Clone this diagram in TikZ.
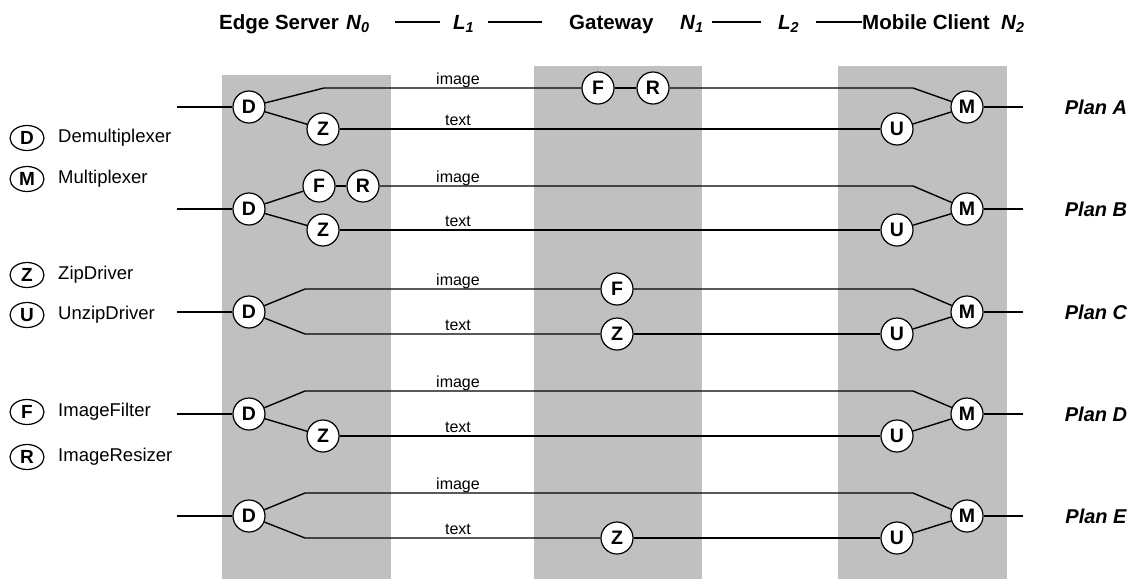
\documentclass[tikz,border=0pt]{standalone}
\usepackage{fontspec}
\setmainfont{Liberation Sans}
\usetikzlibrary{shapes.geometric}
\definecolor{colgray}{RGB}{192,192,192}
\begin{document}
\begin{tikzpicture}[x=1pt,y=-1pt,
  proc/.style={circle,draw,line width=1.2pt,fill=white,minimum size=32pt,inner sep=0pt,font=\fontsize{19.5}{20}\bfseries\selectfont},
  leg/.style={ellipse,draw,line width=1.2pt,fill=white,minimum width=34pt,minimum height=25pt,inner sep=0pt,font=\fontsize{19}{20}\bfseries\selectfont},
  legtext/.style={anchor=west,inner sep=0pt,font=\fontsize{18.5}{20}\selectfont},
  wire/.style={line width=1.4pt},
  lbl/.style={anchor=base,inner sep=0pt,font=\fontsize{16}{18}\selectfont},
  plan/.style={inner sep=0pt,font=\fontsize{20}{22}\bfseries\itshape\selectfont},
  ttl/.style={anchor=base west,inner sep=0pt,font=\fontsize{20.5}{24}\bfseries\selectfont},
  tline/.style={line width=1.2pt}
]
\useasboundingbox (0,0) rectangle (1135,579);
% columns
\fill[colgray] (222,75) rectangle (391,579);
\fill[colgray] (534,66) rectangle (702,579);
\fill[colgray] (838,66) rectangle (1007,579);

% title
\node[ttl] (es) at (219,29) {Edge Server};
\node[ttl] (n0) at (346,29) {\itshape N\textsubscript{0}};
\node[ttl] (l1) at (453,29) {\itshape L\textsubscript{1}};
\node[ttl] (gw) at (569,29) {Gateway};
\node[ttl] (n1) at (680,29) {\itshape N\textsubscript{1}};
\node[ttl] (l2) at (778,29) {\itshape L\textsubscript{2}};
\node[ttl] (mc) at (862,29) {Mobile Client};
\node[ttl] (n2) at (1001,29) {\itshape N\textsubscript{2}};
\coordinate (t1a) at (395,22); \coordinate (t1b) at (440,22);
\coordinate (t2a) at (488,22); \coordinate (t2b) at (542,22);
\coordinate (t3a) at (712,22); \coordinate (t3b) at (761,22);
\coordinate (t4a) at (816,22); \coordinate (t4b) at (862,22);
\draw[tline] (t1a) -- (t1b);
\draw[tline] (t2a) -- (t2b);
\draw[tline] (t3a) -- (t3b);
\draw[tline] (t4a) -- (t4b);

% legend
\node[leg] (lD) at (27,138) {D}; \node[legtext] (tD) at (58,138) {Demultiplexer};
\node[leg] (lM) at (27,179) {M}; \node[legtext] (tM) at (58,179) {Multiplexer};
\node[leg] (lZ) at (27,275) {Z}; \node[legtext] (tZ) at (58,275) {ZipDriver};
\node[leg] (lU) at (27,315) {U}; \node[legtext] (tU) at (58,315) {UnzipDriver};
\node[leg] (lF) at (27,412) {F}; \node[legtext] (tF) at (58,412) {ImageFilter};
\node[leg] (lR) at (27,457) {R}; \node[legtext] (tR) at (58,457) {ImageResizer};

% ---------- Plan A
\coordinate (inA) at (177,107); \coordinate (outA) at (1023,107);
\coordinate (biA) at (324,88); \coordinate (miA) at (913,88);
\node[proc] (DA) at (249,107) {D};
\node[proc] (ZA) at (323,129) {Z};
\node[proc] (FA) at (598,88) {F};
\node[proc] (RA) at (653,88) {R};
\node[proc] (UA) at (897,129) {U};
\node[proc] (MA) at (967,107) {M};
\draw[wire] (inA) -- (DA);
\draw[wire] (DA) -- (biA) -- (FA);
\draw[wire] (FA) -- (RA);
\draw[wire] (RA) -- (miA) -- (MA);
\draw[wire] (DA) -- (ZA);
\draw[wire] (ZA) -- (UA);
\draw[wire] (UA) -- (MA);
\draw[wire] (MA) -- (outA);
\node[lbl] at (458,84) {image};
\node[lbl] at (458,125) {text};
\node[plan] (pA) at (1096,107) {Plan A};

% ---------- Plan B
\coordinate (inB) at (177,209); \coordinate (outB) at (1023,209);
\coordinate (miB) at (913,186);
\node[proc] (DB) at (249,209) {D};
\node[proc] (FB) at (319,186) {F};
\node[proc] (RB) at (363,186) {R};
\node[proc] (ZB) at (323,230) {Z};
\node[proc] (UB) at (897,230) {U};
\node[proc] (MB) at (967,209) {M};
\draw[wire] (inB) -- (DB);
\draw[wire] (DB) -- (FB);
\draw[wire] (FB) -- (RB);
\draw[wire] (RB) -- (miB) -- (MB);
\draw[wire] (DB) -- (ZB);
\draw[wire] (ZB) -- (UB);
\draw[wire] (UB) -- (MB);
\draw[wire] (MB) -- (outB);
\node[lbl] at (458,182) {image};
\node[lbl] at (458,226) {text};
\node[plan] (pB) at (1096,209) {Plan B};

% ---------- Plan C
\coordinate (inC) at (177,312); \coordinate (outC) at (1023,312);
\coordinate (biC) at (305,289); \coordinate (miC) at (913,289);
\coordinate (btC) at (305,334);
\node[proc] (DC) at (249,312) {D};
\node[proc] (FC) at (617,289) {F};
\node[proc] (ZC) at (617,334) {Z};
\node[proc] (UC) at (897,334) {U};
\node[proc] (MC) at (967,312) {M};
\draw[wire] (inC) -- (DC);
\draw[wire] (DC) -- (biC) -- (FC);
\draw[wire] (FC) -- (miC) -- (MC);
\draw[wire] (DC) -- (btC) -- (ZC);
\draw[wire] (ZC) -- (UC);
\draw[wire] (UC) -- (MC);
\draw[wire] (MC) -- (outC);
\node[lbl] at (458,285) {image};
\node[lbl] at (458,330) {text};
\node[plan] (pC) at (1096,312) {Plan C};

% ---------- Plan D
\coordinate (inD) at (177,414); \coordinate (outD) at (1023,414);
\coordinate (biD) at (305,391); \coordinate (miD) at (913,391);
\node[proc] (DD) at (249,414) {D};
\node[proc] (ZD) at (323,436) {Z};
\node[proc] (UD) at (897,436) {U};
\node[proc] (MD) at (967,414) {M};
\draw[wire] (inD) -- (DD);
\draw[wire] (DD) -- (biD) -- (miD) -- (MD);
\draw[wire] (DD) -- (ZD);
\draw[wire] (ZD) -- (UD);
\draw[wire] (UD) -- (MD);
\draw[wire] (MD) -- (outD);
\node[lbl] at (458,387) {image};
\node[lbl] at (458,432) {text};
\node[plan] (pD) at (1096,414) {Plan D};

% ---------- Plan E
\coordinate (inE) at (177,516); \coordinate (outE) at (1023,516);
\coordinate (biE) at (305,493); \coordinate (miE) at (913,493);
\coordinate (btE) at (305,538);
\node[proc] (DE) at (249,516) {D};
\node[proc] (ZE) at (617,538) {Z};
\node[proc] (UE) at (897,538) {U};
\node[proc] (ME) at (967,516) {M};
\draw[wire] (inE) -- (DE);
\draw[wire] (DE) -- (biE) -- (miE) -- (ME);
\draw[wire] (DE) -- (btE) -- (ZE);
\draw[wire] (ZE) -- (UE);
\draw[wire] (UE) -- (ME);
\draw[wire] (ME) -- (outE);
\node[lbl] at (458,489) {image};
\node[lbl] at (458,534) {text};
\node[plan] (pE) at (1096,516) {Plan E};
\end{tikzpicture}
\end{document}
